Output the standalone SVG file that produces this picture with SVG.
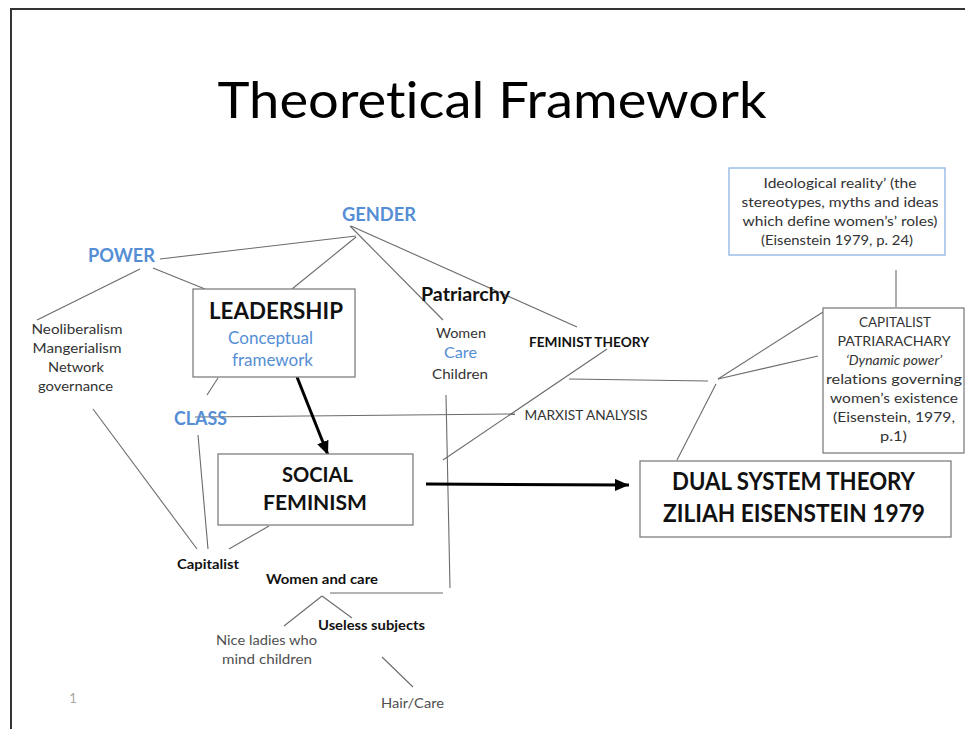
<svg xmlns="http://www.w3.org/2000/svg" width="965" height="729" viewBox="0 0 965 729">
  <style>
    text { font-family: Lato, "Open Sans", "Liberation Sans", sans-serif; text-anchor: middle; font-variant-ligatures: none; }
    .blue { fill: #558ED5; font-weight: bold; }
    .blue-reg { fill: #558ED5; }
    .bold { fill: #111; font-weight: bold; }
    .reg { fill: #333; }
    .grey { fill: #505050; }
    .box { fill: #fff; stroke: #7f7f7f; stroke-width: 1.3; }
    .box-blue { fill: #fff; stroke: #8EB4E3; stroke-width: 1.3; }
    .link { stroke: #6b6b6b; stroke-width: 1.1; fill: none; }
    .thick { stroke: #000; stroke-width: 3; fill: none; }
  </style>
  <defs>
    <marker id="head" markerUnits="userSpaceOnUse" markerWidth="16" markerHeight="12" refX="14" refY="6" orient="auto">
      <path d="M0,0 L14,6 L0,12 Z" fill="#000"/>
    </marker>
  </defs>

  <rect width="965" height="729" fill="#fff"/>
  <!-- slide frame -->
  <path d="M11,729 V9 H965" fill="none" stroke="#333" stroke-width="2"/>

  <text x="492" y="118" font-size="50" fill="#000" textLength="549" lengthAdjust="spacingAndGlyphs">Theoretical Framework</text>

  <!-- connectors -->
  <g id="connectors">
    <line class="link" x1="160" y1="259" x2="356" y2="236"/>
    <line class="link" x1="356" y1="237" x2="292" y2="289"/>
    <line class="link" x1="350" y1="226" x2="443" y2="320"/>
    <line class="link" x1="351" y1="226" x2="577" y2="327"/>
    <line class="link" x1="140" y1="269" x2="37" y2="320"/>
    <line class="link" x1="153" y1="268" x2="205" y2="289"/>
    <line class="link" x1="218" y1="378" x2="207" y2="395"/>
    <line class="link" x1="195" y1="417" x2="515" y2="414"/>
    <line class="link" x1="446" y1="395" x2="450" y2="588"/>
    <line class="link" x1="443" y1="593" x2="330" y2="593"/>
    <line class="link" x1="607" y1="349" x2="443" y2="460"/>
    <line class="link" x1="569" y1="379" x2="708" y2="381"/>
    <line class="link" x1="718" y1="379" x2="823" y2="312"/>
    <line class="link" x1="718" y1="379" x2="818" y2="356"/>
    <line class="link" x1="716" y1="384" x2="677" y2="460"/>
    <line class="link" x1="896" y1="270" x2="896" y2="307"/>
    <line class="link" x1="93" y1="409" x2="197" y2="549"/>
    <line class="link" x1="198" y1="435" x2="208" y2="549"/>
    <line class="link" x1="269" y1="526" x2="229" y2="549"/>
    <line class="link" x1="322" y1="596" x2="284" y2="626"/>
    <line class="link" x1="322" y1="596" x2="352" y2="618"/>
    <line class="link" x1="382" y1="657" x2="413" y2="687"/>
    <line class="thick" x1="297" y1="377" x2="328" y2="455" marker-end="url(#head)"/>
    <line class="thick" x1="426" y1="484" x2="629" y2="485" marker-end="url(#head)"/>
  </g>

  <g id="gender"><text class="blue" x="379" y="221" font-size="19" textLength="74" lengthAdjust="spacingAndGlyphs">GENDER</text></g>
  <g id="power"><text class="blue" x="121.5" y="262" font-size="19" textLength="67" lengthAdjust="spacingAndGlyphs">POWER</text></g>
  <g id="class"><text class="blue" x="200.5" y="425" font-size="19" textLength="53" lengthAdjust="spacingAndGlyphs">CLASS</text></g>

  <g id="leadership">
    <rect class="box" x="193" y="289" width="162" height="88"/>
    <text class="bold" x="276" y="319" font-size="23" textLength="134" lengthAdjust="spacingAndGlyphs">LEADERSHIP</text>
    <text class="blue-reg" x="270.5" y="344" font-size="17" textLength="85" lengthAdjust="spacingAndGlyphs">Conceptual</text>
    <text class="blue-reg" x="272.5" y="366" font-size="17" textLength="81" lengthAdjust="spacingAndGlyphs">framework</text>
  </g>

  <g id="neoliberalism" font-size="14">
    <text class="reg" x="77" y="334" textLength="91" lengthAdjust="spacingAndGlyphs">Neoliberalism</text>
    <text class="reg" x="77" y="353" textLength="89" lengthAdjust="spacingAndGlyphs">Mangerialism</text>
    <text class="reg" x="76" y="372" textLength="56" lengthAdjust="spacingAndGlyphs">Network</text>
    <text class="reg" x="75.5" y="391" textLength="75" lengthAdjust="spacingAndGlyphs">governance</text>
  </g>

  <g id="patriarchy">
    <text class="bold" x="465.5" y="301" font-size="18" textLength="89" lengthAdjust="spacingAndGlyphs">Patriarchy</text>
  </g>

  <g id="women-care-children">
    <text class="reg" x="461" y="338" font-size="14" textLength="50" lengthAdjust="spacingAndGlyphs">Women</text>
    <text class="blue-reg" x="460.5" y="358" font-size="16" textLength="33" lengthAdjust="spacingAndGlyphs">Care</text>
    <text class="reg" x="460" y="379" font-size="14" textLength="56" lengthAdjust="spacingAndGlyphs">Children</text>
  </g>

  <g id="feminist-theory"><text class="bold" x="589" y="347" font-size="14" textLength="120" lengthAdjust="spacingAndGlyphs">FEMINIST THEORY</text></g>
  <g id="marxist-analysis"><text class="reg" x="586" y="420" font-size="14" textLength="123" lengthAdjust="spacingAndGlyphs">MARXIST ANALYSIS</text></g>

  <g id="ideological-reality" font-size="13.5">
    <rect class="box-blue" x="729" y="168" width="216" height="87"/>
    <text class="reg" x="840" y="188" textLength="153" lengthAdjust="spacingAndGlyphs">Ideological reality’ (the</text>
    <text class="reg" x="840" y="207" textLength="197" lengthAdjust="spacingAndGlyphs">stereotypes, myths and ideas</text>
    <text class="reg" x="840" y="226" textLength="195" lengthAdjust="spacingAndGlyphs">which define women’s’ roles)</text>
    <text class="reg" x="837" y="245" textLength="152" lengthAdjust="spacingAndGlyphs">(Eisenstein 1979, p. 24)</text>
  </g>

  <g id="capitalist-patriarchy" font-size="14">
    <rect class="box" x="823" y="308" width="141" height="145"/>
    <text class="reg" x="895" y="327" textLength="72" lengthAdjust="spacingAndGlyphs">CAPITALIST</text>
    <text class="reg" x="894" y="346" textLength="113" lengthAdjust="spacingAndGlyphs">PATRIARACHARY</text>
    <text class="reg" x="894" y="365" font-style="italic" textLength="96" lengthAdjust="spacingAndGlyphs">‘Dynamic power’</text>
    <text class="reg" x="894" y="384" textLength="136" lengthAdjust="spacingAndGlyphs">relations governing</text>
    <text class="reg" x="894" y="403" textLength="128" lengthAdjust="spacingAndGlyphs">women’s existence</text>
    <text class="reg" x="894" y="422" textLength="122" lengthAdjust="spacingAndGlyphs">(Eisenstein, 1979,</text>
    <text class="reg" x="893.5" y="441" textLength="27" lengthAdjust="spacingAndGlyphs">p.1)</text>
  </g>

  <g id="social-feminism">
    <rect class="box" x="218" y="454" width="195" height="71"/>
    <text class="bold" x="317.5" y="482" font-size="21" textLength="71" lengthAdjust="spacingAndGlyphs">SOCIAL</text>
    <text class="bold" x="315" y="510" font-size="21" textLength="104" lengthAdjust="spacingAndGlyphs">FEMINISM</text>
  </g>

  <g id="dual-system-theory">
    <rect class="box" x="640" y="461" width="311" height="76"/>
    <text class="bold" x="793.5" y="490" font-size="24" textLength="243" lengthAdjust="spacingAndGlyphs">DUAL SYSTEM THEORY</text>
    <text class="bold" x="794" y="522" font-size="24" textLength="262" lengthAdjust="spacingAndGlyphs">ZILIAH EISENSTEIN 1979</text>
  </g>

  <g id="capitalist"><text class="bold" x="208" y="569" font-size="13.5" textLength="62" lengthAdjust="spacingAndGlyphs">Capitalist</text></g>
  <g id="women-and-care"><text class="bold" x="322" y="584" font-size="13.5" textLength="112" lengthAdjust="spacingAndGlyphs">Women and care</text></g>
  <g id="useless-subjects"><text class="bold" x="371.5" y="630" font-size="13.5" textLength="107" lengthAdjust="spacingAndGlyphs">Useless subjects</text></g>
  <g id="nice-ladies" font-size="14">
    <text class="grey" x="266.5" y="645" textLength="101" lengthAdjust="spacingAndGlyphs">Nice ladies who</text>
    <text class="grey" x="267" y="664" textLength="90" lengthAdjust="spacingAndGlyphs">mind children</text>
  </g>
  <g id="hair-care"><text class="grey" x="412.5" y="708" font-size="14" textLength="63" lengthAdjust="spacingAndGlyphs">Hair/Care</text></g>

  <text x="73" y="703" font-size="13" fill="#a6a6a6">1</text>
</svg>
